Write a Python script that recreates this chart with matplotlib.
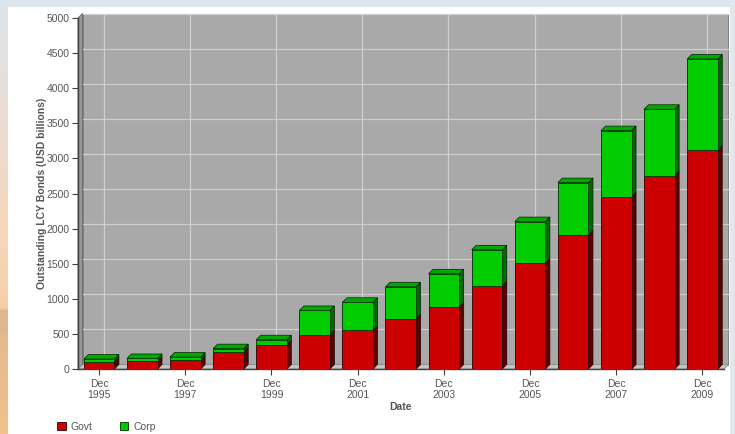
import numpy as np
import matplotlib
matplotlib.use('Agg')
import matplotlib.pyplot as plt
from matplotlib.patches import Polygon, Patch

plt.rcParams['font.family'] = ['Liberation Sans', 'DejaVu Sans']

# data (USD billions)
years = [1995, 1996, 1997, 1998, 1999, 2000, 2001, 2002,
         2003, 2004, 2005, 2006, 2007, 2008, 2009]
govt = [100, 108, 123, 246, 346, 488, 549, 716,
        885, 1186, 1515, 1911, 2457, 2755, 3121]
corp = [42, 42, 47, 44, 71, 346, 401, 455,
        471, 512, 585, 744, 939, 945, 1295]
yticks = list(range(0, 5001, 500))
xtick_years = [1995, 1997, 1999, 2001, 2003, 2005, 2007, 2009]

W, H = 735, 434
fig = plt.figure(figsize=(W / 100, H / 100), dpi=100)
fig.patch.set_facecolor('white')

# page decoration round the chart
fig.add_artist(plt.Rectangle((0, 1 - 7 / H), 1, 7 / H, transform=fig.transFigure,
                             fc='#dce5ec', ec='none'))
fig.add_artist(plt.Rectangle((730 / W, 0), 5 / W, 1, transform=fig.transFigure,
                             fc='#e2e7ec', ec='none'))
gax = fig.add_axes([0, 0, 7 / W, 1])
grad = np.linspace(0, 1, 434)[:, None]
cmap = matplotlib.colors.LinearSegmentedColormap.from_list(
    'side', [(0, '#dce5ec'), (0.3, '#ecdcd0'), (0.55, '#f6d6b8'), (0.713, '#f5cfa8'),
             (0.715, '#dcb690'), (0.8, '#e6bb8e'), (1, '#f2c08a')])
gax.imshow(grad, aspect='auto', cmap=cmap, extent=[0, 1, 0, 1], origin='upper')
gax.axis('off')

# plot area in pixel positions
x0px, x1px, ybot, ytop = 78, 724, 369, 18
ax = fig.add_axes([x0px / W, 1 - ybot / H, (x1px - x0px) / W, (ybot - ytop) / H])
ax.patch.set_alpha(0)

x = np.arange(len(years))
xmin, xmax = -0.49, 14.5
ymax = 5000
ax.set_xlim(xmin, xmax)
ax.set_ylim(0, ymax)

pxx = (x1px - x0px) / (xmax - xmin)
pxy = (ybot - ytop) / ymax
dx = 4.5 / pxx
dy = 4.5 / pxy

# walls
ax.add_patch(Polygon([(xmin + dx, dy), (xmax + dx, dy), (xmax + dx, ymax + dy),
                      (xmin + dx, ymax + dy)], closed=True, fc='#a9a9a9',
                     ec='#707070', lw=0.6, clip_on=False, zorder=0))
ax.add_patch(Polygon([(xmin, 0), (xmin + dx, dy), (xmin + dx, ymax + dy), (xmin, ymax)],
                     closed=True, fc='#979797', ec='#606060', lw=0.6,
                     clip_on=False, zorder=0.5))
ax.add_patch(Polygon([(xmin, 0), (xmax, 0), (xmax + dx, dy), (xmin + dx, dy)],
                     closed=True, fc='#c4c4c4', ec='#808080', lw=0.5,
                     clip_on=False, zorder=0.5))

# grid on the back wall
for v in yticks[1:]:
    ax.plot([xmin + dx, xmax + dx], [v + dy, v + dy], color='#cfcfcf', lw=0.9,
            zorder=0.3, clip_on=False)
for yr in xtick_years:
    xv = years.index(yr) + dx
    ax.plot([xv, xv], [dy, ymax + dy], color='#cfcfcf', lw=0.9, zorder=0.3,
            clip_on=False)

bw = 0.71
govt = np.array(govt)
corp = np.array(corp)
total = govt + corp

ax.bar(x, govt, width=bw, color='#cc0000', edgecolor='#300000', lw=0.6, zorder=3)
ax.bar(x, corp, bottom=govt, width=bw, color='#00cc00', edgecolor='#003000',
       lw=0.6, zorder=3)

for xi, g, t in zip(x, govt, total):
    r = xi + bw / 2
    l = xi - bw / 2
    ax.add_patch(Polygon([(r, 0), (r + dx, dy), (r + dx, g + dy), (r, g)],
                         closed=True, fc='#5a0000', ec='#200000', lw=0.5,
                         zorder=2.5, clip_on=False))
    ax.add_patch(Polygon([(r, g), (r + dx, g + dy), (r + dx, t + dy), (r, t)],
                         closed=True, fc='#006a00', ec='#002000', lw=0.5,
                         zorder=2.5, clip_on=False))
    ax.add_patch(Polygon([(l, t), (r, t), (r + dx, t + dy), (l + dx, t + dy)],
                         closed=True, fc='#00a800', ec='#002000', lw=0.5,
                         zorder=2.5, clip_on=False))

for s in ['top', 'right']:
    ax.spines[s].set_visible(False)
for s in ['left', 'bottom']:
    ax.spines[s].set_color('#404040')
    ax.spines[s].set_linewidth(1.0)

ax.set_yticks(yticks)
ax.set_yticklabels([str(v) for v in yticks])
ax.set_xticks([years.index(yr) for yr in xtick_years])
ax.set_xticklabels(['Dec\n%d' % yr for yr in xtick_years])
ax.tick_params(axis='both', direction='out', length=4, width=0.8, color='#404040',
               labelsize=7.5, labelcolor='#555555', pad=2)
ax.tick_params(axis='x', pad=3)

ax.set_ylabel('Outstanding LCY Bonds (USD billions)', fontsize=7.5,
              fontweight='bold', color='#555555', labelpad=0)
ax.set_xlabel('Date', fontsize=7.5, fontweight='bold', color='#555555', labelpad=1)

fig.legend(handles=[Patch(fc='#cc0000', ec='#300000', lw=0.6, label='Govt'),
                    Patch(fc='#00cc00', ec='#003000', lw=0.6, label='Corp')],
           loc='center left', bbox_to_anchor=(48 / W, 1 - 427 / H), ncol=2,
           frameon=False, fontsize=7.5, handlelength=0.8, handleheight=0.8,
           handletextpad=0.5, columnspacing=2.6, labelcolor='#555555')

fig.savefig('out.png', dpi=100, facecolor=fig.get_facecolor())
